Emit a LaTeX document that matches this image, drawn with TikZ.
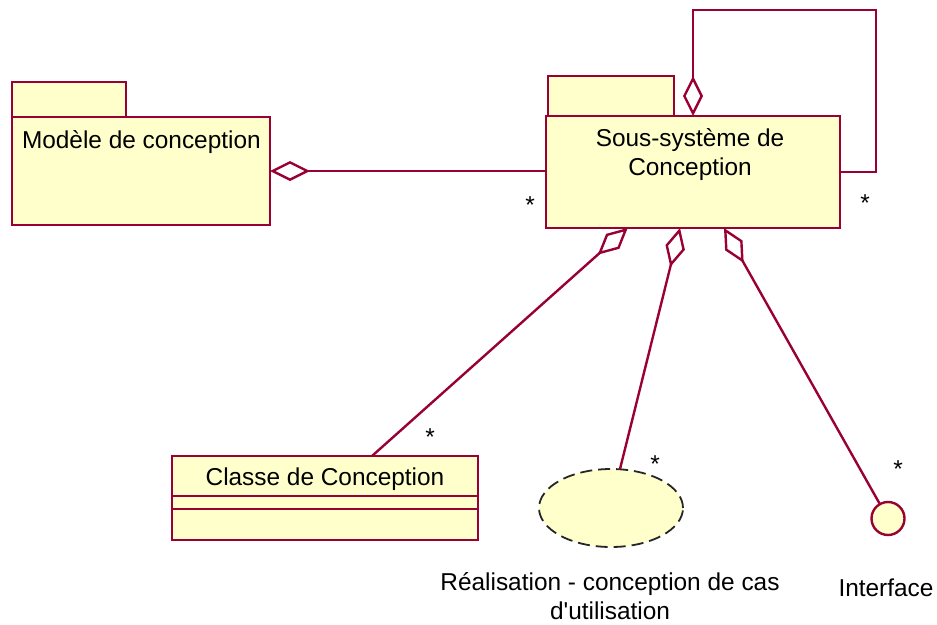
\documentclass[tikz,border=0pt]{standalone}
\usepackage{fontspec}
\setmainfont{Liberation Sans}[Ligatures=TeXOff]
\usetikzlibrary{arrows.meta,shapes.geometric}
\definecolor{umlline}{RGB}{153,0,51}
\definecolor{umlfill}{RGB}{255,255,204}
\begin{document}
\begin{tikzpicture}[x=1pt,y=-1pt,
  every node/.style={font=\fontsize{24.4pt}{28.5pt}\selectfont, inner sep=0pt, outer sep=0pt},
  box/.style={draw=umlline, fill=umlfill, line width=2.4pt, rectangle},
  link/.style={draw=umlline, line width=2.4pt},
  agg/.style={link, {Diamond[open, length=40pt, width=20pt]}-},
  mult/.style={anchor=base},
  lbl/.style={anchor=base, align=center}]
\useasboundingbox (0,0) rectangle (937,624);

% package: Modele de conception
\node[box, minimum width=114pt, minimum height=35pt, anchor=north west] (modtab) at (12,82) {};
\node[box, minimum width=258pt, minimum height=108pt, anchor=north west] (mod) at (12,117) {};
\node[anchor=base west] (modtxt) at (22,148) {Modèle de conception};

% package: Sous-systeme de Conception
\node[box, minimum width=126pt, minimum height=40pt, anchor=north west] (subtab) at (548,76) {};
\node[box, minimum width=294pt, minimum height=112pt, anchor=north west] (sub) at (546,116) {};
\node[lbl] (subtxt) at (690,175) {Sous-système de\\Conception};

% class with two empty compartments
\node[box, minimum width=306pt, minimum height=84pt, anchor=north west] (cls) at (172,456) {};
\draw[link] ([yshift=-40pt]cls.north west) -- ([yshift=-40pt]cls.north east);
\draw[link] ([yshift=-53pt]cls.north west) -- ([yshift=-53pt]cls.north east);
\node[anchor=base] (clstxt) at (325,485) {Classe de Conception};

% use-case realization
\node[ellipse, draw=black!85, fill=umlfill, dash pattern=on 12pt off 6pt, line width=1.8pt,
      minimum width=144pt, minimum height=78pt] (uc) at (611,508) {};
\node[lbl] (uctxt) at (610,619) {Réalisation - conception de cas\\d'utilisation};

% interface
\node[circle, draw=umlline, fill=umlfill, line width=2.4pt, minimum size=33pt] (ifc) at (888,518.5) {};
\node[anchor=base] (ifctxt) at (886,596) {Interface};

% aggregations
\coordinate (loop) at (876,10);
\draw[agg] (mod.east) -- (mod.east -| sub.west);
\draw[agg] (sub.north) |- (loop) |- (sub.east);
\draw[agg] ([xshift=81.7pt]sub.south west) -- ([xshift=200pt]cls.north west);
\draw[agg] ([xshift=134pt]sub.south west) -- (uc.77);
\draw[agg] ([xshift=178pt]sub.south west) -- (ifc);

% multiplicities
\node[mult] (m1) at (530,213) {*};
\node[mult] (m2) at (865,211) {*};
\node[mult] (m3) at (430,445) {*};
\node[mult] (m4) at (655,472) {*};
\node[mult] (m5) at (898,477) {*};
\end{tikzpicture}
\end{document}
